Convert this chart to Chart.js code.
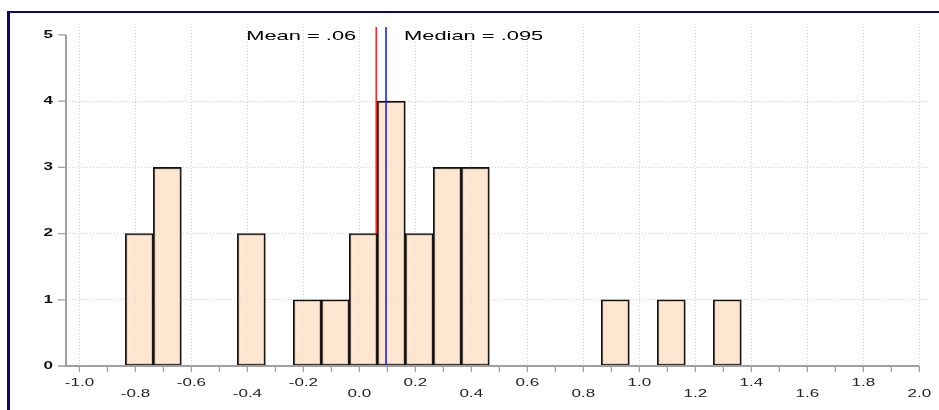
<!DOCTYPE html>
<html lang="en">
<head>
    <meta charset="UTF-8">
    <title>Histogram</title>
    <script src="https://cdn.jsdelivr.net/npm/chart.js"></script>
    <style>
        html, body { margin: 0; padding: 0; background: #fff; }
        body { width: 939px; height: 410px; position: relative; overflow: hidden; }
        #frame { position: absolute; left: 7px; top: 11px; right: -10px; bottom: -10px;
                 border-top: 2px solid #0a0a6e; border-left: 3px solid #0a0a6e; pointer-events: none; }
        #wrap { position: absolute; left: 0; top: 0; width: 939px; height: 410px; }
    </style>
</head>
<body>
    <div id="wrap"><canvas id="histChart"></canvas></div>
    <div id="frame"></div>

    <script>
        // bins of width 0.1 (centres) and their counts
        const binCenters = [-0.786, -0.686, -0.386, -0.186, -0.086, 0.014, 0.114, 0.214, 0.314, 0.414, 0.914, 1.114, 1.314];
        const counts     = [2, 3, 2, 1, 1, 2, 4, 2, 3, 3, 1, 1, 1];

        const meanValue = 0.06;
        const medianValue = 0.095;
        const meanLabel = 'Mean = .06';
        const medianLabel = 'Median = .095';

        // axis ticks
        const xTickValues = [-1.0, -0.9, -0.8, -0.7, -0.6, -0.5, -0.4, -0.3, -0.2, -0.1, 0.0, 0.1, 0.2, 0.3, 0.4, 0.5,
                             0.6, 0.7, 0.8, 0.9, 1.0, 1.1, 1.2, 1.3, 1.4, 1.5, 1.6, 1.7, 1.8, 1.9, 2.0];
        const xTickLabels = ['-1.0', '-0.8', '-0.6', '-0.4', '-0.2', '0.0', '0.2', '0.4', '0.6', '0.8',
                             '1.0', '1.2', '1.4', '1.6', '1.8', '2.0'];
        const yTickValues = [0, 1, 2, 3, 4, 5];
        const yTickLabels = ['0', '1', '2', '3', '4', '5'];

        const SX = 1.62; // horizontal stretch of the lettering
        const FONT = "'Liberation Sans', Arial, sans-serif";
        const AXIS_GREY = '#a0a0a0';
        const GRID = '#cfcfcf';
        const NONE = 'rgba(0,0,0,0)';

        function stretchText(ctx, text, x, y, align, font, color) {
            ctx.save();
            ctx.font = font;
            ctx.fillStyle = color;
            ctx.textAlign = align;
            ctx.textBaseline = 'middle';
            ctx.translate(x, y);
            ctx.scale(SX, 1);
            ctx.fillText(text, 0, 0);
            ctx.restore();
        }

        const statLines = {
            id: 'statLines',
            beforeDatasetsDraw(chart) {
                // mean line sits under the bars
                const { ctx, chartArea, scales: { x, y } } = chart;
                const px = x.getPixelForValue(meanValue);
                ctx.save();
                ctx.strokeStyle = '#ff1a1a';
                ctx.lineWidth = 1.5;
                ctx.beginPath();
                ctx.moveTo(px, chartArea.top);
                ctx.lineTo(px, y.getPixelForValue(0));
                ctx.stroke();
                ctx.restore();
            },
            afterDatasetsDraw(chart) {
                const { ctx, chartArea, scales: { x, y } } = chart;
                const y0 = y.getPixelForValue(0);
                const xLeft = chartArea.left;

                // median line over the bars
                const pm = x.getPixelForValue(medianValue);
                ctx.save();
                ctx.strokeStyle = '#1010ff';
                ctx.lineWidth = 1.5;
                ctx.beginPath();
                ctx.moveTo(pm, chartArea.top);
                ctx.lineTo(pm, y0);
                ctx.stroke();

                // axis lines
                ctx.strokeStyle = AXIS_GREY;
                ctx.lineWidth = 2;
                ctx.beginPath();
                ctx.moveTo(xLeft, y.getPixelForValue(yTickValues[yTickValues.length - 1]));
                ctx.lineTo(xLeft, y0);
                ctx.lineTo(x.getPixelForValue(xTickValues[xTickValues.length - 1]), y0);
                ctx.stroke();

                // tick marks
                ctx.lineWidth = 1.3;
                ctx.beginPath();
                yTickValues.forEach(v => {
                    const py = y.getPixelForValue(v);
                    ctx.moveTo(xLeft - 8, py);
                    ctx.lineTo(xLeft, py);
                });
                xTickValues.forEach(v => {
                    const px = x.getPixelForValue(v);
                    ctx.moveTo(px, y0);
                    ctx.lineTo(px, y0 + 6);
                });
                ctx.stroke();
                ctx.restore();

                // tick labels
                yTickValues.forEach((v, i) => {
                    stretchText(ctx, yTickLabels[i], xLeft - 13, y.getPixelForValue(v), 'right', 'bold 10.5px ' + FONT, '#111');
                });
                xTickLabels.forEach((lab, i) => {
                    const v = xTickValues[i * 2];
                    const row = i % 2;
                    stretchText(ctx, lab, x.getPixelForValue(v), y0 + 17 + row * 11, 'center', '10.5px ' + FONT, '#222');
                });

                // mean / median captions
                const capY = chartArea.top + 9.5;
                stretchText(ctx, meanLabel, x.getPixelForValue(meanValue) - 20, capY, 'right', '13.5px ' + FONT, '#000');
                stretchText(ctx, medianLabel, pm + 18, capY, 'left', '13.5px ' + FONT, '#000');
            }
        };

        const ctx = document.getElementById('histChart').getContext('2d');

        new Chart(ctx, {
            type: 'bar',
            data: {
                datasets: [{
                    data: binCenters.map((c, i) => ({ x: c, y: counts[i] })),
                    backgroundColor: 'rgba(253, 222, 194, 0.75)',
                    borderColor: '#111',
                    borderWidth: 1.6,
                    borderSkipped: false,
                    barPercentage: 1,
                    categoryPercentage: 1
                }]
            },
            options: {
                responsive: true,
                maintainAspectRatio: false,
                animation: false,
                layout: { padding: { left: 0, top: 27, right: 9, bottom: 0 } },
                plugins: {
                    legend: { display: false },
                    tooltip: { enabled: false }
                },
                scales: {
                    x: {
                        type: 'linear',
                        offset: false,
                        min: -1.048,
                        max: 2.038,
                        afterBuildTicks: s => { s.ticks = xTickValues.map(v => ({ value: v })); },
                        afterFit: s => { s.height = 44; },
                        ticks: { display: false },
                        border: { display: false, dash: [1, 2] },
                        grid: {
                            offset: false,
                            drawTicks: false,
                            lineWidth: 1,
                            color: c => (c.tick && Math.round(c.tick.value * 10) % 2 === 0 ? GRID : NONE)
                        }
                    },
                    y: {
                        min: 0,
                        max: 5.12,
                        afterBuildTicks: s => { s.ticks = yTickValues.map(v => ({ value: v })); },
                        afterFit: s => { s.width = 66; },
                        ticks: { display: false },
                        border: { display: false, dash: [1, 2] },
                        grid: {
                            drawTicks: false,
                            lineWidth: 1,
                            color: c => (c.tick && c.tick.value >= 1 && c.tick.value <= 4 ? GRID : NONE)
                        }
                    }
                }
            },
            plugins: [statLines]
        });
    </script>
</body>
</html>
